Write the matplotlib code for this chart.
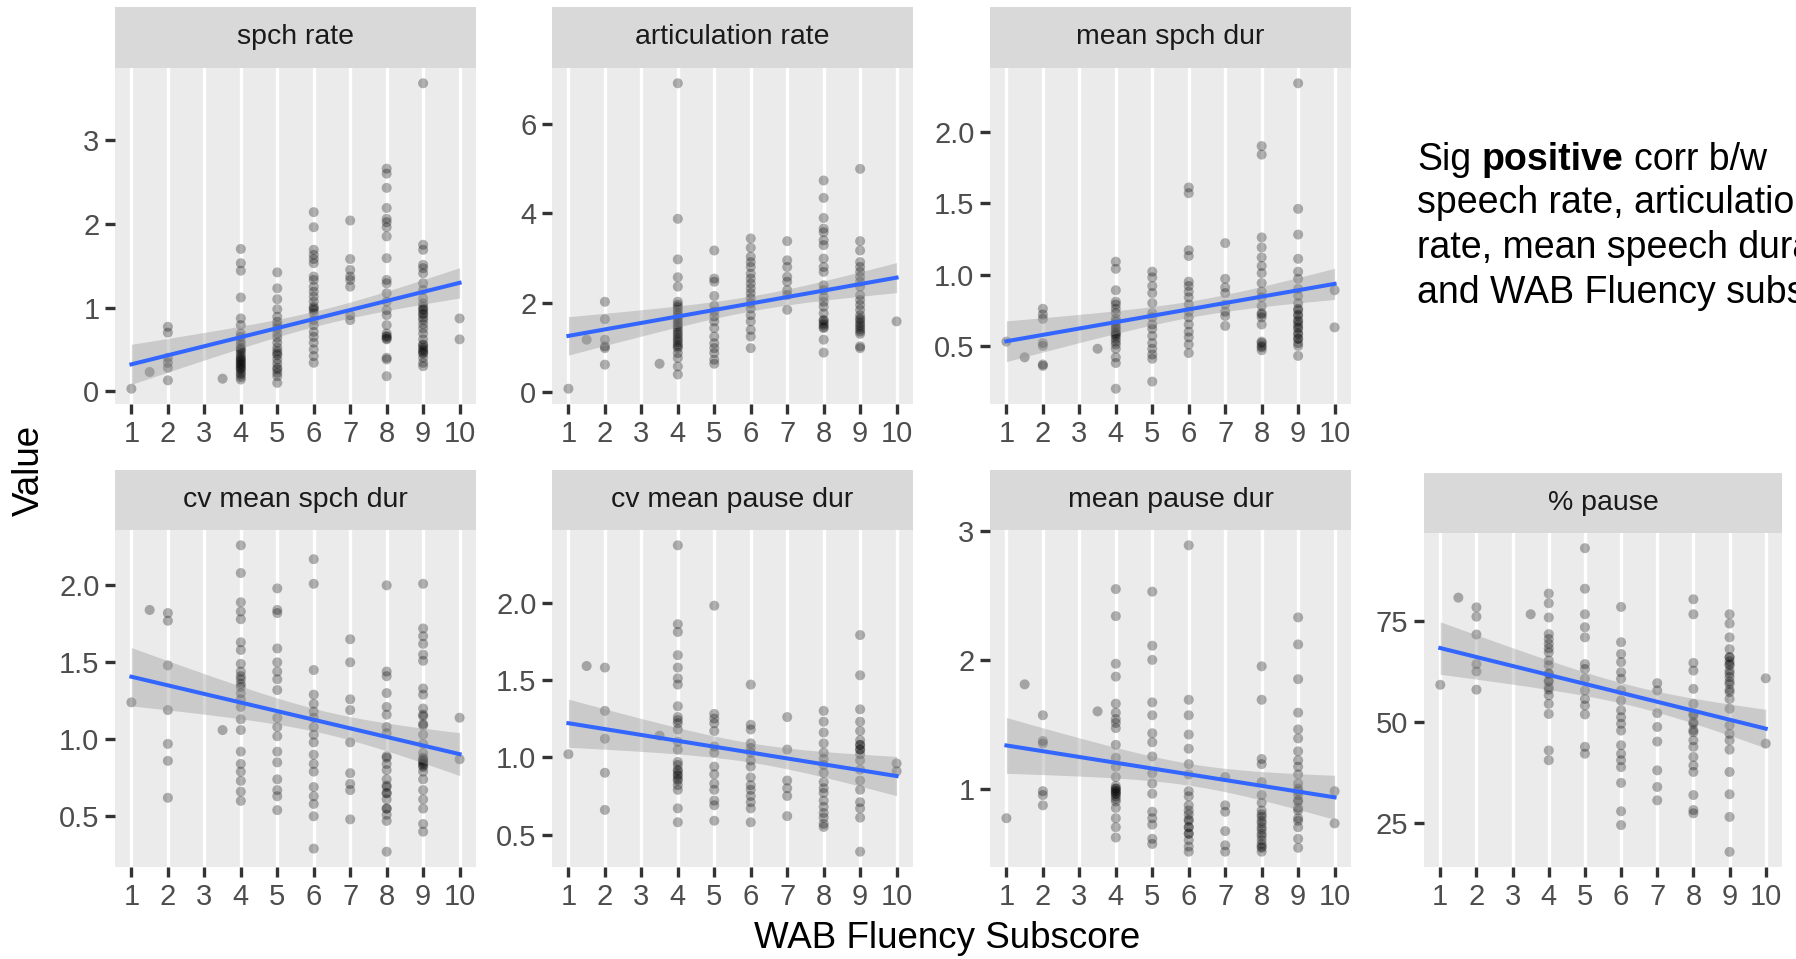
import numpy as np
import matplotlib
matplotlib.use('Agg')
import matplotlib.pyplot as plt

plt.rcParams['font.family'] = ['Liberation Sans', 'DejaVu Sans']

titles = ['spch rate', 'articulation rate', 'mean spch dur',
          'cv mean spch dur', 'cv mean pause dur', 'mean pause dur', '% pause']

# WAB fluency subscore -> values
spch_rate = {
    1: [0.03], 1.5: [0.23], 2: [0.77, 0.70, 0.40, 0.34, 0.28, 0.13], 3.5: [0.15],
    4: [1.70, 1.53, 1.44, 1.12, 0.87, 0.79, 0.69, 0.65, 0.60, 0.56, 0.52, 0.50, 0.48, 0.45,
        0.42, 0.40, 0.38, 0.37, 0.35, 0.33, 0.32, 0.30, 0.28, 0.27, 0.25, 0.22, 0.20, 0.17, 0.14],
    5: [1.42, 1.23, 1.10, 0.98, 0.89, 0.83, 0.79, 0.75, 0.69, 0.64, 0.58, 0.52, 0.48, 0.45,
        0.43, 0.38, 0.33, 0.28, 0.26, 0.22, 0.18, 0.10],
    6: [2.14, 1.96, 1.69, 1.63, 1.58, 1.53, 1.37, 1.33, 1.25, 1.19, 1.13, 1.07, 1.01, 0.99,
        0.97, 0.93, 0.85, 0.79, 0.71, 0.65, 0.58, 0.50, 0.42, 0.34],
    7: [2.04, 1.58, 1.45, 1.37, 1.33, 1.25, 0.91, 0.85],
    8: [2.66, 2.60, 2.43, 2.19, 2.06, 2.02, 1.96, 1.85, 1.59, 1.33, 1.29, 1.17, 1.07, 0.97,
        0.91, 0.79, 0.69, 0.66, 0.65, 0.63, 0.62, 0.40, 0.38, 0.18],
    9: [3.68, 1.75, 1.69, 1.51, 1.47, 1.41, 1.29, 1.21, 1.11, 1.05, 1.01, 0.98, 0.97, 0.93,
        0.92, 0.88, 0.85, 0.80, 0.75, 0.69, 0.62, 0.56, 0.55, 0.52, 0.50, 0.48, 0.46, 0.45,
        0.40, 0.34, 0.30],
    10: [0.87, 0.62],
}
artic_rate = {
    1: [0.07], 1.5: [1.17], 2: [2.02, 1.63, 1.17, 1.02, 0.98, 0.61], 3.5: [0.63],
    4: [6.92, 3.88, 2.97, 2.57, 2.36, 2.02, 1.95, 1.90, 1.84, 1.78, 1.72, 1.66, 1.61, 1.55,
        1.50, 1.45, 1.39, 1.33, 1.28, 1.22, 1.17, 1.12, 1.06, 1.02, 0.98, 0.87, 0.76, 0.57, 0.39],
    5: [3.17, 2.54, 2.47, 2.15, 1.93, 1.80, 1.69, 1.58, 1.43, 1.24, 1.09, 0.98, 0.87, 0.72, 0.63],
    6: [3.44, 3.23, 3.03, 2.91, 2.80, 2.65, 2.54, 2.43, 2.32, 2.21, 2.10, 1.99, 1.87, 1.72,
        1.58, 1.39, 1.24, 0.98],
    7: [3.38, 2.95, 2.80, 2.58, 2.47, 2.28, 2.17, 1.84],
    8: [4.74, 4.35, 3.90, 3.66, 3.58, 3.40, 3.29, 2.99, 2.80, 2.69, 2.39, 2.28, 2.13, 2.02,
        1.91, 1.76, 1.61, 1.60, 1.54, 1.50, 1.45, 1.43, 1.17, 0.88],
    9: [5.00, 3.38, 3.17, 2.91, 2.80, 2.69, 2.58, 2.47, 2.36, 2.17, 2.06, 1.95, 1.84, 1.72,
        1.65, 1.61, 1.55, 1.50, 1.45, 1.40, 1.35, 1.30, 1.02, 0.98],
    10: [1.58],
}
mean_spch_dur = {
    1: [0.53], 1.5: [0.42], 2: [0.76, 0.72, 0.69, 0.52, 0.50, 0.37, 0.36], 3.5: [0.48],
    4: [1.09, 1.04, 0.89, 0.81, 0.79, 0.76, 0.73, 0.69, 0.67, 0.65, 0.63, 0.62, 0.60, 0.59,
        0.58, 0.57, 0.55, 0.53, 0.51, 0.48, 0.42, 0.38, 0.20],
    5: [1.02, 0.98, 0.92, 0.87, 0.80, 0.73, 0.70, 0.65, 0.62, 0.57, 0.52, 0.48, 0.44, 0.41, 0.25],
    6: [1.61, 1.57, 1.17, 1.13, 0.95, 0.92, 0.88, 0.84, 0.79, 0.74, 0.70, 0.65, 0.60, 0.56,
        0.51, 0.45],
    7: [1.22, 0.97, 0.91, 0.87, 0.79, 0.74, 0.71, 0.64],
    8: [1.90, 1.84, 1.26, 1.19, 1.12, 1.06, 1.01, 0.94, 0.88, 0.84, 0.78, 0.73, 0.72, 0.70,
        0.65, 0.53, 0.52, 0.50, 0.49, 0.47],
    9: [2.34, 1.46, 1.28, 1.11, 1.02, 0.97, 0.90, 0.85, 0.80, 0.76, 0.75, 0.72, 0.71, 0.68,
        0.67, 0.65, 0.63, 0.62, 0.59, 0.58, 0.55, 0.55, 0.52, 0.50, 0.43],
    10: [0.89, 0.63],
}
cv_spch_dur = {
    1: [1.24], 1.5: [1.84], 2: [1.82, 1.77, 1.48, 1.19, 0.97, 0.86, 0.62], 3.5: [1.06],
    4: [2.26, 2.08, 1.89, 1.83, 1.78, 1.63, 1.58, 1.49, 1.44, 1.41, 1.39, 1.36, 1.34, 1.30,
        1.26, 1.21, 1.13, 1.06, 0.92, 0.84, 0.79, 0.73, 0.66, 0.60],
    5: [1.98, 1.84, 1.82, 1.59, 1.50, 1.44, 1.39, 1.32, 1.14, 1.08, 1.02, 0.92, 0.85, 0.74,
        0.67, 0.63, 0.54],
    6: [2.17, 2.01, 1.45, 1.29, 1.23, 1.18, 1.14, 1.08, 1.03, 0.98, 0.90, 0.84, 0.79, 0.69,
        0.63, 0.58, 0.50, 0.29],
    7: [1.65, 1.50, 1.26, 1.19, 0.98, 0.78, 0.71, 0.67, 0.48],
    8: [2.00, 1.44, 1.41, 1.30, 1.21, 1.16, 1.08, 1.04, 0.89, 0.88, 0.84, 0.80, 0.74, 0.70,
        0.69, 0.65, 0.65, 0.61, 0.55, 0.55, 0.51, 0.47, 0.27],
    9: [2.01, 1.72, 1.67, 1.62, 1.55, 1.51, 1.33, 1.29, 1.20, 1.16, 1.15, 1.10, 1.09, 1.03,
        0.97, 0.91, 0.88, 0.87, 0.86, 0.85, 0.84, 0.83, 0.82, 0.79, 0.74, 0.67, 0.61, 0.55,
        0.45, 0.40],
    10: [1.14, 0.87],
}
cv_pause_dur = {
    1: [1.02], 1.5: [1.59], 2: [1.58, 1.30, 1.12, 0.90, 0.66], 3.5: [1.14],
    4: [2.37, 1.86, 1.81, 1.66, 1.58, 1.51, 1.47, 1.33, 1.26, 1.24, 1.22, 1.18, 1.10, 1.05,
        0.97, 0.95, 0.92, 0.91, 0.89, 0.88, 0.86, 0.85, 0.82, 0.79, 0.67, 0.58],
    5: [1.98, 1.28, 1.25, 1.22, 1.17, 1.07, 1.03, 0.94, 0.89, 0.83, 0.79, 0.72, 0.69, 0.59],
    6: [1.47, 1.21, 1.18, 1.09, 1.06, 1.03, 0.98, 0.94, 0.87, 0.82, 0.79, 0.75, 0.71, 0.67, 0.58],
    7: [1.26, 1.05, 0.85, 0.80, 0.75, 0.62],
    8: [1.30, 1.23, 1.16, 1.09, 1.03, 0.99, 0.95, 0.90, 0.84, 0.80, 0.77, 0.72, 0.68, 0.64,
        0.61, 0.57, 0.55],
    9: [1.79, 1.53, 1.31, 1.23, 1.17, 1.11, 1.08, 1.08, 1.05, 1.05, 1.02, 0.98, 0.92, 0.85,
        0.79, 0.71, 0.67, 0.61, 0.39],
    10: [0.96, 0.91],
}
mean_pause_dur = {
    1: [0.77], 1.5: [1.81], 2: [1.57, 1.37, 1.35, 0.98, 0.95, 0.87], 3.5: [1.60],
    4: [2.55, 2.34, 1.97, 1.87, 1.66, 1.59, 1.54, 1.51, 1.47, 1.34, 1.24, 1.17, 1.09, 1.02,
        1.00, 1.00, 0.98, 0.98, 0.96, 0.96, 0.94, 0.92, 0.90, 0.85, 0.77, 0.70, 0.62],
    5: [2.53, 2.11, 2.00, 1.67, 1.57, 1.43, 1.36, 1.25, 1.12, 1.04, 0.96, 0.82, 0.77, 0.72,
        0.61, 0.57],
    6: [2.89, 1.69, 1.57, 1.42, 1.31, 1.19, 1.11, 0.98, 0.94, 0.87, 0.83, 0.80, 0.76, 0.75,
        0.70, 0.70, 0.65, 0.65, 0.60, 0.55, 0.51],
    7: [1.09, 0.87, 0.82, 0.67, 0.56, 0.51],
    8: [1.95, 1.69, 1.23, 1.19, 1.05, 0.95, 0.89, 0.83, 0.80, 0.78, 0.75, 0.73, 0.70, 0.68,
        0.65, 0.63, 0.60, 0.57, 0.55, 0.54, 0.51],
    9: [2.33, 2.12, 1.85, 1.59, 1.46, 1.39, 1.29, 1.22, 1.17, 1.11, 1.04, 1.00, 0.98, 0.95,
        0.91, 0.90, 0.85, 0.83, 0.77, 0.75, 0.70, 0.61, 0.54],
    10: [0.98, 0.73],
}
pct_pause = {
    1: [59.2], 1.5: [80.7], 2: [78.3, 76.0, 71.6, 64.3, 62.5, 58.0], 3.5: [76.6],
    4: [81.7, 79.3, 75.8, 71.7, 70.5, 69.3, 68.2, 67.2, 65.2, 64.0, 62.0, 61.9, 60.2, 60.0,
        58.6, 58.0, 56.6, 54.5, 52.0, 43.0, 40.6],
    5: [92.9, 82.9, 76.6, 73.4, 70.9, 64.3, 63.1, 60.7, 57.8, 55.7, 54.1, 51.9, 43.9, 42.2],
    6: [78.4, 69.7, 66.8, 64.8, 62.3, 60.7, 57.8, 55.3, 52.9, 51.2, 49.6, 47.9, 44.3, 42.2,
        40.6, 38.9, 35.0, 28.0, 24.6],
    7: [59.6, 57.8, 52.2, 48.8, 45.2, 38.1, 34.0, 30.7],
    8: [80.3, 76.6, 64.6, 62.7, 58.2, 54.5, 52.0, 51.6, 50.0, 49.6, 48.0, 47.5, 45.5, 43.9,
        41.4, 39.3, 37.7, 32.0, 28.3, 27.5],
    9: [76.6, 74.3, 70.9, 68.0, 66.0, 66.0, 65.0, 64.3, 64.0, 62.7, 62.0, 61.1, 60.0, 59.4,
        58.0, 57.4, 55.7, 53.3, 49.2, 47.1, 45.5, 43.2, 37.7, 32.2, 26.6, 18.0],
    10: [60.8, 44.7],
}

yticks = [[0, 1, 2, 3], [0, 2, 4, 6], [0.5, 1.0, 1.5, 2.0],
          [0.5, 1.0, 1.5, 2.0], [0.5, 1.0, 1.5, 2.0], [1, 2, 3], [25, 50, 75]]
ytick_labels = [['0', '1', '2', '3'], ['0', '2', '4', '6'], ['0.5', '1.0', '1.5', '2.0'],
                ['0.5', '1.0', '1.5', '2.0'], ['0.5', '1.0', '1.5', '2.0'],
                ['1', '2', '3'], ['25', '50', '75']]
xticks = list(range(1, 11))

panels = [spch_rate, artic_rate, mean_spch_dur, cv_spch_dur, cv_pause_dur,
          mean_pause_dur, pct_pause]

W, H = 1796, 959
fig = plt.figure(figsize=(W / 100, H / 100), dpi=100)

# pixel boxes: left, right, strip top, panel top, panel bottom
boxes = [(115, 476, 7, 68, 404), (552, 913, 7, 68, 404), (990, 1351, 7, 68, 404),
         (115, 476, 470, 530, 867), (552, 913, 470, 530, 867), (990, 1351, 470, 530, 867),
         (1424, 1782, 473, 533, 867)]


def frac(l, r, t, b):
    return [l / W, 1 - b / H, (r - l) / W, (b - t) / H]


for i, d in enumerate(panels):
    l, r, st, pt, pb = boxes[i]
    x = np.concatenate([[k] * len(v) for k, v in d.items()]).astype(float)
    y = np.concatenate([v for v in d.values()])

    ax = fig.add_axes(frac(l, r, pt, pb))
    ax.set_facecolor('#EBEBEB')
    for s in ax.spines.values():
        s.set_visible(False)
    ax.grid(axis='x', color='white', linewidth=2.4)
    ax.set_axisbelow(True)

    # lm fit with 95% band
    n = len(x)
    b1, b0 = np.polyfit(x, y, 1)
    resid = y - (b0 + b1 * x)
    sig = np.sqrt(np.sum(resid ** 2) / (n - 2))
    xs = np.linspace(x.min(), x.max(), 80)
    se = sig * np.sqrt(1 / n + (xs - x.mean()) ** 2 / np.sum((x - x.mean()) ** 2))
    fit = b0 + b1 * xs
    ax.scatter(x, y, s=52, c='black', alpha=0.3, edgecolors='none', zorder=2)
    ax.fill_between(xs, fit - 1.97 * se, fit + 1.97 * se, color='#999999',
                    alpha=0.4, linewidth=0, zorder=3)
    ax.plot(xs, fit, color='#3366FF', linewidth=2.9, zorder=4)

    ax.set_xlim(0.55, 10.45)
    ax.set_xticks(xticks)
    ax.set_xticklabels([str(v) for v in xticks])
    ax.set_yticks(yticks[i])
    ax.set_yticklabels(ytick_labels[i])
    ax.tick_params(length=7.2, width=2.4, color='#333333', labelcolor='#4D4D4D',
                   labelsize=21, pad=4)

    sax = fig.add_axes(frac(l, r, st, pt))
    sax.set_facecolor('#D9D9D9')
    sax.set_xticks([])
    sax.set_yticks([])
    for s in sax.spines.values():
        s.set_visible(False)
    sax.text(0.5, 0.5, titles[i], ha='center', va='center', fontsize=20.5,
             color='#1A1A1A', transform=sax.transAxes)

fig.text(29 / W, 1 - 470 / H, 'Value', rotation=90, ha='center', va='center', fontsize=26.5)
fig.text(947 / W, 1 - 938 / H, 'WAB Fluency Subscore', ha='center', va='center', fontsize=26.5)

# side note
tax = fig.add_axes([0, 0, 1, 1], facecolor='none')
tax.axis('off')
x0 = 1417 / W
t1 = tax.text(x0, 1 - 170 / H, 'Sig', fontsize=27, va='baseline', transform=tax.transAxes)
t2 = tax.annotate('positive', xy=(1, 0), xycoords=t1, xytext=(7.5, 0),
                  textcoords='offset points', fontsize=27, fontweight='bold', va='bottom')
tax.annotate('corr b/w', xy=(1, 0), xycoords=t2, xytext=(7.5, 0),
             textcoords='offset points', fontsize=27, va='bottom')
lines = ['speech rate, articulation', 'rate, mean speech duration', 'and WAB Fluency subscore']
for j, s in enumerate(lines):
    tax.text(x0, 1 - (213 + 45 * j) / H, s, fontsize=27, va='baseline',
             transform=tax.transAxes)

fig.savefig('out.png', dpi=100)
